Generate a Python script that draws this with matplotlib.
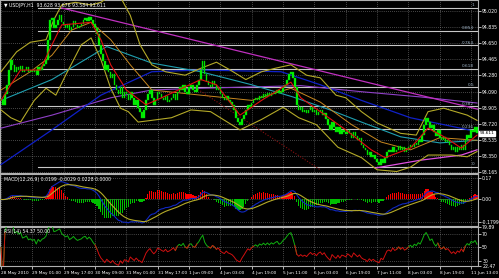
import numpy as np
import pandas as pd
import matplotlib
matplotlib.use('Agg')
import matplotlib.pyplot as plt

# hourly closes USDJPY (16 bars per row = one label step)
closes = [
    93.99, 93.94, 94.06, 94.17, 94.34, 94.46, 94.40, 94.32, 94.37, 94.34, 94.39, 94.32, 94.34, 94.37, 94.32, 94.34,
    94.32, 94.34, 94.28, 94.37, 94.34, 94.39, 94.41, 94.46, 94.69, 94.92, 94.94, 94.83, 94.86, 94.92, 94.97, 94.89,
    94.86, 94.83, 94.87, 94.80, 94.84, 94.90, 94.86, 94.83, 94.85, 94.87, 94.92, 94.94, 94.90, 94.95, 94.92, 94.87,
    94.83, 94.75, 94.63, 94.52, 94.44, 94.34, 94.40, 94.32, 94.25, 94.29, 94.17, 94.11, 94.06, 94.14, 94.02, 94.09,
    94.06, 93.99, 94.09, 94.02, 93.94, 93.99, 93.90, 93.86, 93.79, 93.88, 93.99, 94.06, 94.11, 94.02, 93.94, 93.99,
    94.09, 94.06, 94.02, 93.99, 94.04, 93.97, 93.99, 94.02, 94.06, 93.99, 94.09, 94.14, 94.11, 94.17, 94.09, 94.06,
    94.14, 94.17, 94.11, 94.09, 94.17, 94.23, 94.34, 94.44, 94.29, 94.21, 94.17, 94.14, 94.21, 94.17, 94.11, 94.14,
    94.06, 94.02, 93.99, 94.04, 93.99, 93.97, 93.94, 93.88, 93.79, 93.74, 93.71, 93.77, 93.82, 93.88, 93.94, 93.91,
    93.96, 93.99, 94.02, 93.99, 94.04, 94.02, 94.06, 94.03, 94.07, 94.04, 94.08, 94.06, 94.09, 94.11, 94.07, 94.09,
    94.14, 94.17, 94.23, 94.29, 94.32, 94.25, 94.14, 93.94, 93.88, 93.91, 93.86, 93.88, 93.84, 93.88, 93.91, 93.86,
    93.88, 93.82, 93.86, 93.88, 93.82, 93.85, 93.77, 93.71, 93.65, 93.74, 93.68, 93.63, 93.68, 93.60, 93.65, 93.63,
    93.60, 93.65, 93.61, 93.56, 93.63, 93.58, 93.53, 93.56, 93.48, 93.44, 93.42, 93.36, 93.40, 93.34, 93.36, 93.31,
    93.28, 93.25, 93.31, 93.27, 93.33, 93.40, 93.42, 93.39, 93.45, 93.40, 93.42, 93.46, 93.42, 93.45, 93.40, 93.42,
    93.45, 93.48, 93.45, 93.50, 93.48, 93.53, 93.51, 93.59, 93.71, 93.79, 93.74, 93.67, 93.71, 93.63, 93.58, 93.65,
    93.56, 93.53, 93.57, 93.51, 93.53, 93.48, 93.42, 93.45, 93.40, 93.45, 93.42, 93.48, 93.42, 93.53, 93.59, 93.56,
    93.65, 93.63, 93.68, 93.611,
]

time_labels = ['28 May 2010', '29 May 01:00', '29 May 17:00', '30 May 09:00', '31 May 01:00',
               '31 May 17:00', '1 Jun 09:00', '4 Jun 03:00', '4 Jun 19:00', '5 Jun 11:00',
               '6 Jun 03:00', '6 Jun 19:00', '7 Jun 11:00', '8 Jun 03:00', '8 Jun 19:00', '11 Jun 13:00']

price_ticks = [95.020, 94.835, 94.650, 94.465, 94.280, 94.090, 93.905, 93.720, 93.535, 93.350, 93.165]

# overlay lines (bar index, price)
bb_up_bar = [0, 8, 15, 23, 27, 31, 38, 46, 51, 56, 61, 66, 71, 77, 84, 94, 102, 110, 117, 125, 133, 140,
             148, 156, 163, 171, 176, 184, 192, 204, 212, 218, 226, 238, 243]
bb_up = [94.32, 94.55, 94.66, 94.69, 94.92, 95.09, 95.12, 95.09, 95.12, 95.20, 95.18, 94.97, 94.63, 94.40,
         94.32, 94.28, 94.36, 94.43, 94.34, 94.23, 94.32, 94.36, 94.40, 94.28, 94.25, 94.05, 94.02, 93.86,
         93.73, 93.61, 93.59, 93.86, 93.90, 93.82, 93.76]
bb_lo_bar = [0, 5, 10, 17, 23, 28, 33, 41, 46, 51, 56, 61, 65, 70, 77, 87, 97, 107, 122, 133, 144, 152,
             161, 172, 184, 192, 202, 209, 218, 230, 238, 243]
bb_lo = [93.88, 93.79, 93.74, 93.99, 94.13, 94.05, 94.28, 94.63, 94.71, 94.46, 94.13, 93.90, 93.86, 93.74,
         93.76, 93.79, 93.88, 93.86, 93.65, 93.77, 93.91, 93.79, 93.71, 93.45, 93.33, 93.19, 93.17, 93.22,
         93.36, 93.36, 93.34, 93.40]
mid_bar = [0, 15, 26, 36, 46, 56, 66, 77, 102, 128, 148, 163, 179, 194, 209, 224, 243]
mid = [94.11, 94.32, 94.51, 94.80, 94.89, 94.69, 94.40, 94.11, 94.05, 93.99, 94.13, 93.97, 93.71, 93.51,
       93.42, 93.56, 93.53]
fast_bar = [0, 5, 10, 20, 26, 31, 46, 51, 56, 64, 74, 82, 102, 110, 122, 133, 148, 153, 163, 176, 189,
            196, 209, 218, 227, 235, 243]
fast = [93.99, 94.17, 94.34, 94.34, 94.63, 94.86, 94.89, 94.69, 94.40, 94.11, 93.94, 94.02, 94.23, 94.17,
        93.82, 93.99, 94.20, 94.02, 93.86, 93.65, 93.42, 93.33, 93.44, 93.67, 93.56, 93.44, 93.59]
teal_bar = [0, 26, 54, 77, 102, 128, 149, 168, 184, 204, 224, 243]
teal = [93.99, 94.23, 94.61, 94.42, 94.32, 94.17, 94.03, 93.88, 93.74, 93.57, 93.50, 93.53]
blue_bar = [0, 26, 51, 77, 102, 143, 163, 184, 209, 243]
blue = [93.25, 93.65, 94.05, 94.32, 94.34, 94.32, 94.17, 93.99, 93.79, 93.63]
slow_bar = [0, 26, 56, 77, 102, 153, 184, 214, 243]
slow = [93.67, 93.82, 94.02, 94.11, 94.13, 94.16, 94.09, 94.03, 93.96]
trend_bar = [31, 254]
trend = [95.055, 93.83]
pink_bar = [191, 214, 235, 243]
pink = [93.21, 93.30, 93.36, 93.42]
dotted_bar = [97, 163]
dotted = [94.17, 93.19]

fib_high, fib_low, fib_start = 95.055, 93.223, 19
fib_levels = [0.0, 0.236, 0.382, 0.5, 0.618, 0.764, 0.854, 1.0]

c = pd.Series(closes)
n = len(c)
idx = np.arange(n)
opens = c.shift(1).fillna(c.iloc[0])

ema12 = c.ewm(span=12).mean()
ema26 = c.ewm(span=26).mean()
macd = ema12 - ema26
signal = macd.ewm(span=9).mean()
hist = 2 * (macd - signal)

delta = c.diff().fillna(0)
up = delta.clip(lower=0).ewm(alpha=1/14).mean()
dn = (-delta.clip(upper=0)).ewm(alpha=1/14).mean()
rsi = 100 - 100 / (1 + up / dn.replace(0, np.nan))
rsi = rsi.fillna(50)

W, H = 499, 278
fs = 3.3
fig = plt.figure(figsize=(W/100, H/100), dpi=100, facecolor='black')

def panel(top, bottom):
    a = fig.add_axes([0, 1 - bottom/H, 478/W, (bottom - top)/H])
    a.set_facecolor('black')
    for s in a.spines.values():
        s.set_color('#b0b0b0')
        s.set_linewidth(0.8)
    a.set_xlim(-0.5, n - 0.5)
    a.yaxis.tick_right()
    a.tick_params(axis='y', colors='white', labelsize=fs, length=2, pad=1, width=0.5)
    a.tick_params(axis='x', length=0, labelbottom=False)
    a.set_xticks(list(range(0, n, 16)))
    a.grid(True, color='#8a8a8a', linestyle=(0, (1, 2)), linewidth=0.5)
    return a

ax = panel(0, 173)
am = panel(174, 226)
ar = panel(227, 266)

# main price panel
ax.set_ylim(93.153, 95.147)
ax.set_yticks(price_ticks)
ax.set_yticklabels([f'{v:.3f}' for v in price_ticks])

for lv in fib_levels:
    p = fib_low + lv * (fib_high - fib_low)
    ax.plot([fib_start, n - 0.5], [p, p], color='#c8c8c8', lw=0.8, zorder=2)
    ax.text(n - 2.5, p + 0.008, f'{lv:g}' if lv in (0.0, 1.0, 0.5) else f'{lv:.3f}',
            color='#9fb4c8', fontsize=3.1, ha='right', va='bottom', zorder=6)

ax.plot(slow_bar, slow, color='#9040c8', lw=0.8, zorder=3)
ax.plot(blue_bar, blue, color='#1020c8', lw=0.9, zorder=3)
ax.plot(teal_bar, teal, color='#20a0b0', lw=0.8, zorder=3)
ax.plot(trend_bar, trend, color='#c030c0', lw=0.9, zorder=3)
ax.plot(pink_bar, pink, color='#e050e0', lw=0.9, zorder=3)
ax.plot(dotted_bar, dotted, color='#8a1010', lw=0.8, ls=(0, (1, 1.5)), zorder=3)
ax.plot(bb_up_bar, bb_up, color='#b4aa28', lw=0.8, zorder=3)
ax.plot(bb_lo_bar, bb_lo, color='#b4aa28', lw=0.8, zorder=3)
ax.plot(mid_bar, mid, color='#c88820', lw=0.7, zorder=3)

body_lo = np.minimum(opens, c)
body_h = np.maximum(np.abs(c - opens), 0.012)
ax.bar(idx, body_h, bottom=body_lo, width=0.75, color='#00ff00', edgecolor='#00c000',
       linewidth=0.3, zorder=4)
ax.plot(fast_bar, fast, color='#e01010', lw=0.8, zorder=5)

ax.text(0.008, 0.985, '\u25bc USDJPY,H1  93.628 93.676 93.584 93.611', transform=ax.transAxes,
        color='white', fontsize=fs, ha='left', va='top', zorder=7)
ax.text(1.004, closes[-1], f'{closes[-1]:.3f}', transform=ax.get_yaxis_transform(), color='black',
        fontsize=3.1, ha='left', va='center', zorder=8, clip_on=False,
        bbox=dict(boxstyle='square,pad=0.15', facecolor='white', edgecolor='white'))

# MACD panel
am.set_ylim(-0.21, 0.202)
am.set_yticks([0.17, 0.0, -0.1799])
am.set_yticklabels(['0.17', '0.00', '-0.1799'])
cols = np.where(hist >= 0, '#ff0000', '#00c000')
am.bar(idx, hist, width=0.6, color=cols, zorder=3)
am.plot(idx, macd, color='#1028c0', lw=0.8, zorder=4)
am.plot(idx, signal, color='#b4aa28', lw=0.8, zorder=4)
am.text(0.008, 0.95, 'MACD(12,26,9) 0.0199 -0.0029 0.0228 0.0000', transform=am.transAxes,
        color='white', fontsize=fs, ha='left', va='top', zorder=7)

# RSI panel
ar.set_ylim(22.47, 79.89)
ar.set_yticks([79.89, 70, 50, 30, 22.47])
ar.set_yticklabels(['79.89', '70', '50', '30', '22.47'])
hi_r = rsi.where(rsi >= 50)
lo_r = rsi.where(rsi < 50)
hi_r = hi_r.fillna(rsi.where(lo_r.notna() & (hi_r.shift(1).notna() | hi_r.shift(-1).notna())))
lo_r = lo_r.fillna(rsi.where((lo_r.shift(1).notna() | lo_r.shift(-1).notna())))
ar.plot(idx, hi_r, color='#10b010', lw=0.7, zorder=4)
ar.plot(idx, lo_r, color='#d01010', lw=0.7, zorder=4)
ar.text(0.008, 0.95, 'RSI(14) 54.37 50.00', transform=ar.transAxes,
        color='white', fontsize=fs, ha='left', va='top', zorder=7)

ar.tick_params(axis='x', length=2, colors='white', labelsize=3.1, labelbottom=True, pad=1.5, width=0.5)
ar.set_xticklabels(time_labels, ha='left')

fig.savefig('out.png', dpi=100, facecolor='black')
